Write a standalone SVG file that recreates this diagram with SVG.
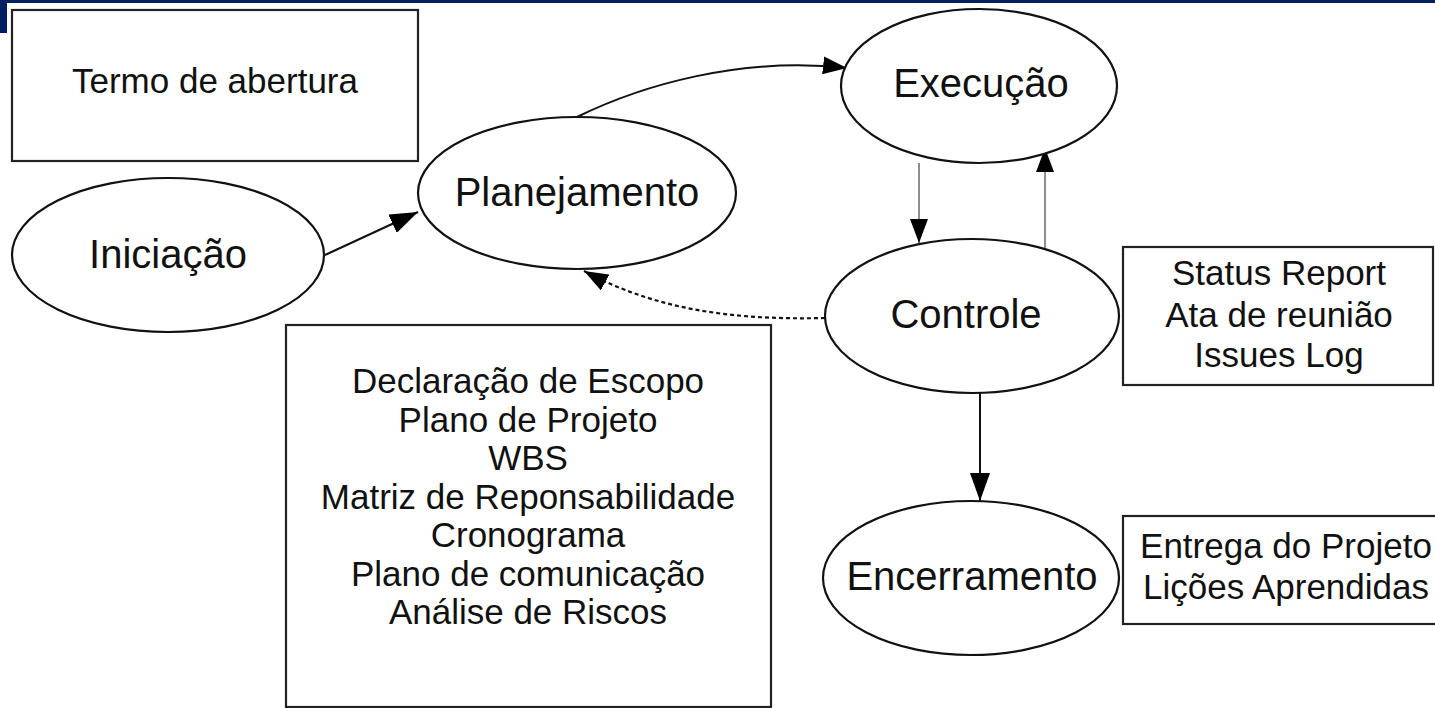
<svg xmlns="http://www.w3.org/2000/svg" width="1435" height="708" viewBox="0 0 1435 708">
<style>
.node{fill:#fff;stroke:#111;stroke-width:2.2}
.box{fill:#fff;stroke:#222;stroke-width:2.2}
.lbl{font-family:"Liberation Sans",Arial,sans-serif;font-size:40px;fill:#111;text-anchor:middle}
.txt{font-family:"Liberation Sans",Arial,sans-serif;font-size:35px;fill:#111;text-anchor:middle}
.edge{fill:none;stroke:#111;stroke-width:2}
.thin{fill:none;stroke:#444;stroke-width:1.2}
.dot{fill:none;stroke:#111;stroke-width:2.2;stroke-dasharray:4 3}
</style>
<defs>
<marker id="ah" viewBox="0 0 28 20" refX="28" refY="10" markerWidth="28" markerHeight="20" markerUnits="userSpaceOnUse" orient="auto"><path d="M0,0 L28,10 L0,20 Z" fill="#000"/></marker>
<marker id="ahs" viewBox="0 0 24 18" refX="24" refY="9" markerWidth="24" markerHeight="18" markerUnits="userSpaceOnUse" orient="auto"><path d="M0,0 L24,9 L0,18 Z" fill="#000"/></marker>
</defs>
<rect x="0" y="0" width="1435" height="708" fill="#fff"/>
<rect x="0" y="0" width="1435" height="3" fill="#002060"/>
<rect x="0" y="0" width="7" height="33" fill="#002060"/>

<g id="connectors">
<path class="edge" d="M325,255 L418,212" marker-end="url(#ah)"/>
<path class="edge" d="M577,117 C640,86 740,56 847,68" marker-end="url(#ahs)"/>
<path class="thin" d="M919,163 L919,243" marker-end="url(#ahs)"/>
<path class="thin" d="M1045,253 L1045,148" marker-end="url(#ahs)"/>
<path class="dot" d="M825,318 C740,320 660,312 584,271" marker-end="url(#ahs)"/>
<path class="edge" d="M980,393 L980,501" marker-end="url(#ah)"/>
</g>

<g id="termo">
<rect class="box" x="12" y="10" width="406" height="151"/>
<text class="txt" x="215" y="93">Termo de abertura</text>
</g>

<g id="iniciacao">
<ellipse class="node" cx="168" cy="255" rx="156" ry="77"/>
<text class="lbl" x="168" y="268">Iniciação</text>
</g>

<g id="planejamento">
<ellipse class="node" cx="577" cy="193" rx="159" ry="76"/>
<text class="lbl" x="577" y="206">Planejamento</text>
</g>

<g id="execucao">
<ellipse class="node" cx="979" cy="86" rx="138" ry="77"/>
<text class="lbl" x="981" y="97">Execução</text>
</g>

<g id="controle">
<ellipse class="node" cx="972" cy="316" rx="147" ry="77"/>
<text class="lbl" x="966" y="328">Controle</text>
</g>

<g id="encerramento">
<ellipse class="node" cx="971" cy="578" rx="148" ry="77"/>
<text class="lbl" x="972" y="590">Encerramento</text>
</g>

<g id="artefatos-planejamento">
<rect class="box" x="286" y="325" width="485" height="382"/>
<text class="txt" x="528" y="393">Declaração de Escopo</text>
<text class="txt" x="528" y="431.5">Plano de Projeto</text>
<text class="txt" x="528" y="470">WBS</text>
<text class="txt" x="528" y="508.5">Matriz de Reponsabilidade</text>
<text class="txt" x="528" y="547">Cronograma</text>
<text class="txt" x="528" y="585.5">Plano de comunicação</text>
<text class="txt" x="528" y="624">Análise de Riscos</text>
</g>

<g id="artefatos-controle">
<rect class="box" x="1123" y="247" width="310" height="138"/>
<text class="txt" x="1279" y="285">Status Report</text>
<text class="txt" x="1279" y="327">Ata de reunião</text>
<text class="txt" x="1279" y="367">Issues Log</text>
</g>

<g id="artefatos-encerramento">
<rect class="box" x="1123" y="516" width="330" height="108"/>
<text class="txt" x="1286" y="558">Entrega do Projeto</text>
<text class="txt" x="1286" y="599">Lições Aprendidas</text>
</g>
</svg>
